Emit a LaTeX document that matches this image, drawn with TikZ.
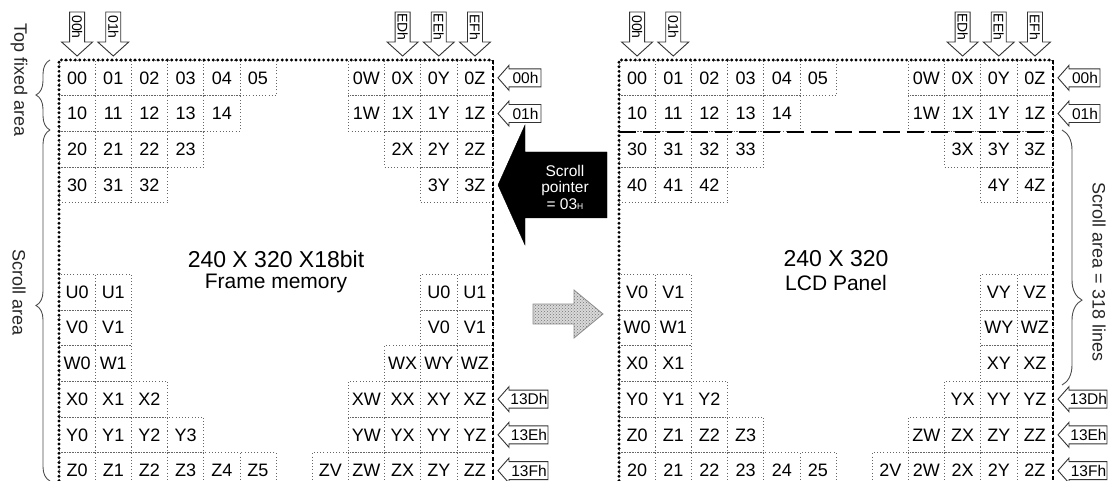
\documentclass[tikz,border=0pt]{standalone}
\usepackage{fontspec}
\setmainfont{Liberation Sans}
\usetikzlibrary{decorations.pathreplacing,patterns}

\tikzset{
  cellbox/.style={draw=black!60, dash pattern=on 0.8pt off 2.4pt, line width=0.7pt,
    minimum width=36.17pt, minimum height=35.7pt, inner sep=0pt,
    text=black, font=\fontsize{18}{18}\selectfont},
  dotborder/.style={line width=3.2pt, dash pattern=on 0pt off 4.6pt, line cap=round},
  dashborder/.style={line width=2.8pt, dash pattern=on 4pt off 2.4pt},
  sepline/.style={line width=2.2pt, dash pattern=on 17pt off 7pt},
  tagbox/.style={draw=black!80, line width=0.9pt, fill=white, line join=miter},
  tagtext/.style={inner sep=0pt, text=black, font=\fontsize{15.5}{15.5}\selectfont},
  toptext/.style={inner sep=0pt, text=black, font=\fontsize{14}{14}\selectfont},
  sidelabel/.style={inner sep=0pt, text=black!85, font=\fontsize{18}{18}\selectfont},
  bigtext/.style={inner sep=0pt, text=black, font=\fontsize{#1}{#1}\selectfont},
  bracelen/.style={decorate, decoration={brace, amplitude=#1}, line width=0.9pt, draw=black!70}
}

% cell: panel, row, column, left edge, text
\newcommand{\cellat}[5]{%
  \node[cellbox] (#1-#2-#3) at ({#4+(#3+0.5)*36.17},{60+(#2+0.5)*35.7}) {#5};}

% hollow arrow above a column: panel, left edge, column, text
\newcommand{\toptag}[4]{%
  \pgfmathsetmacro{\tx}{#2+(#3+0.5)*36.17}
  \draw[tagbox] (\tx-7.5,12) -- (\tx+7.5,12) -- (\tx+7.5,42) -- (\tx+15.5,42)
    -- (\tx,56) -- (\tx-15.5,42) -- (\tx-7.5,42) -- cycle;
  \node[toptext, rotate=-90] (#1-top-#3) at (\tx,27) {#4};}

% hollow arrow right of a row: panel, tip x, row, tail x, text
\newcommand{\sidetag}[5]{%
  \pgfmathsetmacro{\ty}{60+(#3+0.5)*35.7}
  \draw[tagbox] (#2,\ty) -- (#2+11,\ty-12.5) -- (#2+11,\ty-9) -- (#4,\ty-9)
    -- (#4,\ty+9) -- (#2+11,\ty+9) -- (#2+11,\ty+12.5) -- cycle;
  \node[tagtext] (#1-side-#3) at ({(#2+11+#4)/2+0.5},\ty) {#5};}

\begin{document}
\begin{tikzpicture}[x=1pt, y=-1pt]
    \useasboundingbox (0,0) rectangle (1111,481);

    % Frame memory
    \foreach \r/\c/\t in {0/0/00,0/1/01,0/2/02,0/3/03,0/4/04,0/5/05,0/8/0W,0/9/0X,0/10/0Y,0/11/0Z,
        1/0/10,1/1/11,1/2/12,1/3/13,1/4/14,1/8/1W,1/9/1X,1/10/1Y,1/11/1Z,
        2/0/20,2/1/21,2/2/22,2/3/23,2/9/2X,2/10/2Y,2/11/2Z,
        3/0/30,3/1/31,3/2/32,3/10/3Y,3/11/3Z,
        6/0/U0,6/1/U1,6/10/U0,6/11/U1,
        7/0/V0,7/1/V1,7/10/V0,7/11/V1,
        8/0/W0,8/1/W1,8/9/WX,8/10/WY,8/11/WZ,
        9/0/X0,9/1/X1,9/2/X2,9/8/XW,9/9/XX,9/10/XY,9/11/XZ,
        10/0/Y0,10/1/Y1,10/2/Y2,10/3/Y3,10/8/YW,10/9/YX,10/10/YY,10/11/YZ,
        11/0/Z0,11/1/Z1,11/2/Z2,11/3/Z3,11/4/Z4,11/5/Z5,11/7/ZV,11/8/ZW,11/9/ZX,11/10/ZY,11/11/ZZ}
        \cellat{fm}{\r}{\c}{59}{\t};

    % LCD panel
    \foreach \r/\c/\t in {0/0/00,0/1/01,0/2/02,0/3/03,0/4/04,0/5/05,0/8/0W,0/9/0X,0/10/0Y,0/11/0Z,
        1/0/10,1/1/11,1/2/12,1/3/13,1/4/14,1/8/1W,1/9/1X,1/10/1Y,1/11/1Z,
        2/0/30,2/1/31,2/2/32,2/3/33,2/9/3X,2/10/3Y,2/11/3Z,
        3/0/40,3/1/41,3/2/42,3/10/4Y,3/11/4Z,
        6/0/V0,6/1/V1,6/10/VY,6/11/VZ,
        7/0/W0,7/1/W1,7/10/WY,7/11/WZ,
        8/0/X0,8/1/X1,8/10/XY,8/11/XZ,
        9/0/Y0,9/1/Y1,9/2/Y2,9/9/YX,9/10/YY,9/11/YZ,
        10/0/Z0,10/1/Z1,10/2/Z2,10/3/Z3,10/8/ZW,10/9/ZX,10/10/ZY,10/11/ZZ,
        11/0/20,11/1/21,11/2/22,11/3/23,11/4/24,11/5/25,11/7/2V,11/8/2W,11/9/2X,11/10/2Y,11/11/2Z}
        \cellat{lcd}{\r}{\c}{619}{\t};

    % Panel borders
    \coordinate (fm-nw) at (59,60);
    \coordinate (fm-ne) at (493.04,60);
    \coordinate (lcd-nw) at (619,60);
    \coordinate (lcd-ne) at (1053.04,60);
    \draw[dotborder] (fm-nw |- 0,490) -- (fm-nw) -- (fm-ne);
    \draw[dashborder] (fm-ne) -- (fm-ne |- 0,490);
    \draw[dotborder] (lcd-nw |- 0,490) -- (lcd-nw) -- (lcd-ne);
    \draw[dashborder] (lcd-ne) -- (lcd-ne |- 0,490);
    \draw[sepline] (lcd-1-0.south west) -- (lcd-1-11.south east);

    % Address tags
    \foreach \c/\t in {0/00h,1/01h,9/EDh,10/EEh,11/EFh} {
        \toptag{fm}{59}{\c}{\t}
        \toptag{lcd}{619}{\c}{\t}
    }
    \foreach \r/\t/\w in {0/00h/43,1/01h/43,9/13Dh/50,10/13Eh/50,11/13Fh/50} {
        \sidetag{fm}{498}{\r}{498+\w}{\t}
        \sidetag{lcd}{1058}{\r}{1058+\w-1}{\t}
    }

    % Scroll pointer
    \draw[fill=black] (498,185) -- (525,125) -- (525,152) -- (607,152)
        -- (607,218) -- (525,218) -- (525,245) -- cycle;
    \node[text=white, align=center, inner sep=0pt, font=\fontsize{15.5}{16.5}\selectfont]
        (ptr) at (565,187) {Scroll\\pointer\\= 03{\fontsize{8.5}{8.5}\selectfont H}};

    % Transfer arrow
    \path[fill=gray!30]
        (533,304) -- (574,304) -- (574,290) -- (603,314) -- (574,338) -- (574,324) -- (533,324) -- cycle;
    \path[pattern=crosshatch dots, pattern color=black!55]
        (533,304) -- (574,304) -- (574,290) -- (603,314) -- (574,338) -- (574,324) -- (533,324) -- cycle;
    \draw[draw=gray!90, line width=0.8pt]
        (533,304) -- (574,304) -- (574,290) -- (603,314) -- (574,338) -- (574,324) -- (533,324) -- cycle;

    % Panel titles
    \node[bigtext=23] (fm-title) at (276,259) {240 X 320 X18bit};
    \node[bigtext=21] (fm-sub) at (276,283) {Frame memory};
    \node[bigtext=23] (lcd-title) at (836,259) {240 X 320};
    \node[bigtext=21] (lcd-sub) at (836,283) {LCD Panel};

    % Area braces
    \draw[bracelen=14pt] (50,130) -- (50,60);
    \draw[bracelen=14pt] (50,481) -- (50,130);
    \draw[decorate, decoration={brace, amplitude=20pt, aspect=0.667}, line width=0.9pt, draw=black!70]
        (1062,130) -- (1062,385);
    \node[sidelabel, rotate=-90] (topfixed) at (19,80) {Top fixed area};
    \node[sidelabel, rotate=-90] (scroll-left) at (19,293) {Scroll area};
    \node[sidelabel, rotate=-90] (scroll-right) at (1099,272) {Scroll area = 318 lines};
\end{tikzpicture}
\end{document}
